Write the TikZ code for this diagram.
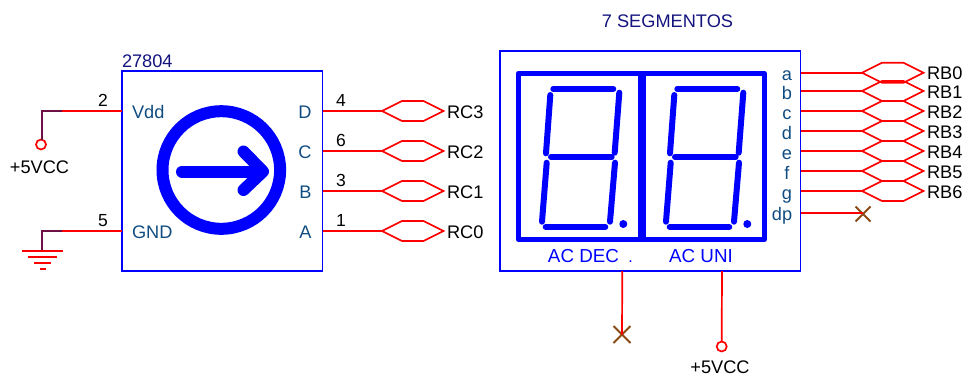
\documentclass[tikz,border=0pt]{standalone}
\usepackage{fontspec}
\setmainfont{Liberation Sans}
\usetikzlibrary{shapes.symbols,shapes.misc}
\definecolor{wire}{HTML}{FF0000}
\definecolor{stub}{HTML}{6E0F45}
\definecolor{symb}{HTML}{0000FF}
\definecolor{pinlab}{HTML}{0F4C81}
\definecolor{navy}{HTML}{14147F}
\definecolor{nc}{HTML}{8B4A12}
\newcommand{\txt}{\fontsize{18.2}{20}\selectfont}
\tikzset{
  lab/.style={inner sep=0pt,outer sep=0pt,anchor=base,font=\txt,text=black},
  lableft/.style={lab,anchor=base west},
  pinname/.style={lab,text=pinlab},
  pinnum/.style={lab,font=\fontsize{17.5}{20}\selectfont},
  acname/.style={lab,text=symb,font=\fontsize{18.8}{20}\selectfont},
  ic/.style={draw=symb,line width=1.6pt,fill=none,inner sep=0pt,outer sep=0pt,anchor=north west},
  hexa/.style={signal,signal to=east and west,draw=wire,line width=1.7pt,inner sep=0pt,outer sep=0pt,
     minimum width=61.5,minimum height=20,signal pointer angle=53.13},
  term/.style={circle,draw=wire,line width=1.7pt,inner sep=0pt,outer sep=0pt,minimum size=10pt,fill=white},
  ncx/.style={cross out,draw=nc,line width=1.8pt,inner sep=0pt,outer sep=0pt,minimum size=15pt},
  wirel/.style={draw=wire,line width=1.7pt},
  stubl/.style={draw=stub,line width=1.7pt},
  gndl/.style={draw=wire,line width=1.7pt},
  seg/.style={draw=symb,line width=6pt,line cap=round},
}
\begin{document}
\begin{tikzpicture}[x=1pt,y=-1pt]
\useasboundingbox (0,0) rectangle (978,376);
% encoder
\node[ic,minimum width=200.5,minimum height=200] (enc) at (122,71) {};
\node[lableft,text=navy] (enctitle) at (122,67.3) {27804};
\draw[symb,line width=12pt] (221.3,170) circle (58.8);
\draw[symb,line width=12pt,line cap=round] (182,171.5) -- (262,171.5);
\draw[symb,line width=12pt,line cap=round,line join=round] (243.5,151.5) -- (263,171.5) -- (243.5,190);
\node[lableft,text=pinlab] (vdd) at (132,118.5) {Vdd};
\node[lableft,text=pinlab] (gndn) at (132,238.5) {GND};
\foreach \n/\y/\num/\net in {D/111/4/RC3,C/151/6/RC2,B/191/3/RC1,A/231/1/RC0}{
  \node[lab,anchor=base east,text=pinlab] (p\n) at (311.5,\y+7.5) {\n};
  \node[hexa,anchor=west] (h\n) at (382,\y) {};
  \coordinate (s\n) at (322.5,\y);
  \draw[wirel] (s\n) -- (h\n.west);
  \node[pinnum] (n\n) at (341,\y-4.5) {\num};
  \node[lableft] (l\n) at (447,\y+7) {\net};
}
% power
\coordinate (vddpin) at (122,111);
\coordinate (vddbend) at (62,111);
\coordinate (vddc) at (42,111);
\node[term] (vcc1) at (41,144.5) {};
\draw[wirel] (vddpin) -- (vddbend);
\draw[stubl] (vddbend) -- (vddc) -- (vcc1.north -| vddc);
\node[lab] (vcc1l) at (39.5,173.3) {+5VCC};
\node[pinnum] (n2) at (103,106.5) {2};
% ground
\coordinate (gndpin) at (122,231);
\coordinate (gndbend) at (62,231);
\coordinate (gndc) at (42,231);
\coordinate (gndt) at (42,251);
\draw[wirel] (gndpin) -- (gndbend);
\draw[stubl] (gndbend) -- (gndc) -- (gndt);
\draw[gndl] (22,251) -- (62.5,251);
\draw[gndl] (28,257) -- (57,257);
\draw[gndl] (34,263) -- (51,263);
\draw[gndl] (39.5,269) -- (45.5,269);
\node[pinnum] (n5) at (103,226.5) {5};
% display
\node[ic,minimum width=300.5,minimum height=220] (disp) at (500,51) {};
\node[lab,text=navy] (title) at (667.5,27) {7 SEGMENTOS};
\draw[symb,line width=5.4pt,line join=round] (518.5,73.5) rectangle (764.3,239.4);
\draw[symb,line width=8pt] (641.5,73.5) -- (641.5,239.4);
\foreach \o in {0,124}{
 \begin{scope}[xshift=\o pt]
  \draw[seg] (553.3,89) -- (613.3,89);
  \draw[seg] (619.3,92.7) -- (614.7,152.7);
  \draw[seg] (550.3,95) -- (546,153.3);
  \draw[seg] (551,157) -- (611.7,157);
  \draw[seg] (546.7,162.7) -- (542,221.7);
  \draw[seg] (615,162.7) -- (610,221.7);
  \draw[seg] (545.7,227) -- (605.3,227);
  \fill[symb] (623.3,224) circle (4);
 \end{scope}
}
\node[acname] (acdec) at (583.5,262.7) {AC DEC};
\node[acname] (dot) at (630.5,262.7) {\fontsize{16}{18}\selectfont .};
\node[acname] (acuni) at (701,262.7) {AC UNI};
\foreach \n/\y/\b/\net in {a/72.7/80.7/RB0,b/91/99/RB1,c/111/119.3/RB2,d/131/139/RB3,e/151/159.3/RB4,f/171/179/RB5,g/191/199/RB6}{
  \node[pinname] (q\n) at (787,\b) {\n};
  \coordinate (t\n) at (801,\y);
  \node[hexa,anchor=west] (r\n) at (862,\y) {};
  \draw[wirel] (t\n) -- (r\n.west);
  \node[lableft] (m\n) at (927,\y+7) {\net};
}
\node[pinname] (qdp) at (782,220.3) {dp};
\coordinate (tdp) at (801,213);
\node[ncx] (xdp) at (863,214) {};
\draw[wirel] (tdp) -- (xdp.center |- tdp);
% bottom
\coordinate (bdec) at (622.3,271);
\coordinate (buni) at (722,271);
\node[ncx,minimum size=17pt] (xdec) at (622,334.5) {};
\node[term] (vcc2) at (721.7,346.5) {};
\draw[wirel] (bdec) -- (xdec.center);
\draw[wirel] (buni) -- (vcc2.north);
\node[lab] (vcc2l) at (720,373.5) {+5VCC};
\end{tikzpicture}
\end{document}
